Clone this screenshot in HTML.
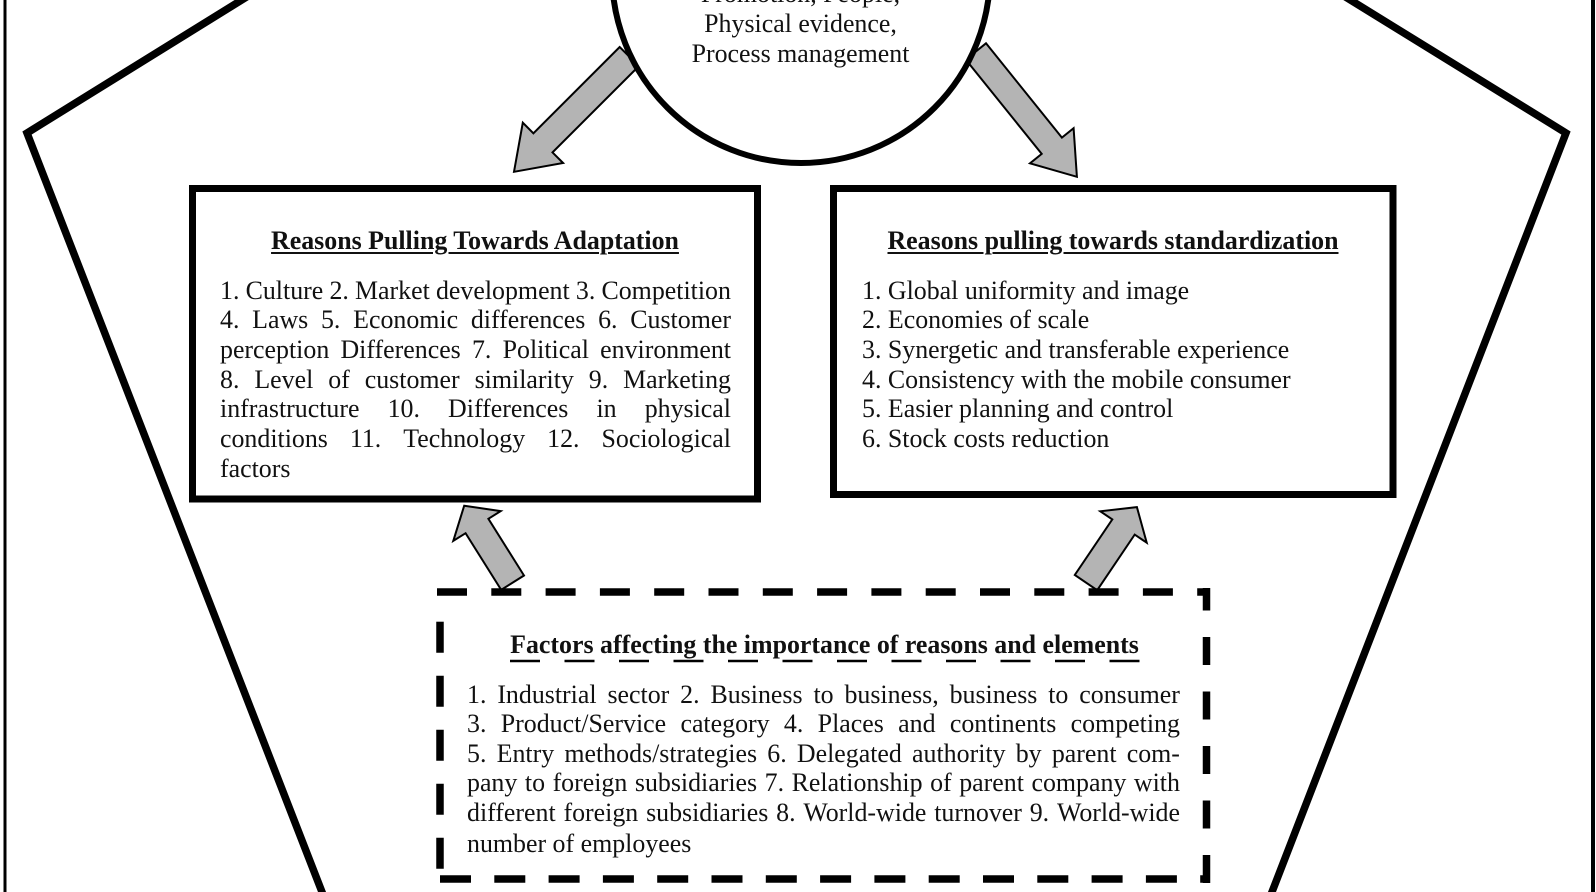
<!DOCTYPE html>
<html>
<head>
<meta charset="utf-8">
<style>
  html,body{margin:0;padding:0;background:#fff;}
  body{width:1596px;height:892px;overflow:hidden;position:relative;font-family:"Liberation Serif","Times New Roman",serif;color:#111;}
  svg{position:absolute;left:0;top:0;}
  .t{position:absolute;font-size:25.9px;line-height:29.7px;white-space:nowrap;}
  .j{display:flex;justify-content:space-between;height:29.7px;line-height:29.7px;white-space:nowrap;}
  .l{height:29.7px;line-height:29.7px;white-space:nowrap;}
  .title{position:absolute;font-size:25.9px;font-weight:bold;line-height:30px;text-align:center;white-space:nowrap;}
  .u{text-decoration:underline;text-decoration-thickness:2px;text-underline-offset:3px;}
</style>
</head>
<body>
<svg width="1596" height="892" viewBox="0 0 1596 892" xmlns="http://www.w3.org/2000/svg">
  <!-- outer frame lines -->
  <line x1="5" y1="0" x2="5" y2="892" stroke="#000" stroke-width="3"/>
  <line x1="1593" y1="0" x2="1593" y2="892" stroke="#000" stroke-width="4"/>
  <!-- pentagon -->
  <polyline points="274,-20 27,133 329,910" fill="none" stroke="#000" stroke-width="7.5" stroke-linejoin="miter" stroke-miterlimit="10"/>
  <polyline points="1318,-20 1566,133 1265,910" fill="none" stroke="#000" stroke-width="7.5" stroke-linejoin="miter" stroke-miterlimit="10"/>
  <!-- boxes -->
  <rect x="192.5" y="188.5" width="565" height="310.5" fill="#fff" stroke="#000" stroke-width="7"/>
  <rect x="833.5" y="188.5" width="559.5" height="306" fill="#fff" stroke="#000" stroke-width="7"/>
  <!-- arrows -->
  <g fill="#b4b4b4" stroke="#000" stroke-width="2" stroke-linejoin="miter">
    <polygon points="619.7,47 533.4,133.3 522.8,122.7 514,171.8 563.1,163 552.5,152.4 638.8,66.1"/>
    <polygon points="986,43.3 1061.9,137.6 1073.6,128.2 1076.9,176.8 1030,163.3 1041.7,153.9 965.8,59.6"/>
    <polygon points="464.2,505.7 500.7,511.1 488.4,518.8 524,575.5 501.2,589.9 465.6,533.2 453.3,540.9"/>
    <polygon points="1136.9,507.1 1146.7,542.7 1134.7,534.6 1097.2,590.2 1074.8,575 1112.3,519.4 1100.3,511.3"/>
  </g>
  <!-- circle -->
  <circle cx="801" cy="-26" r="189" fill="#fff" stroke="#000" stroke-width="6"/>
  <!-- dashed box -->
  <g stroke="#000" stroke-width="7.5" fill="none">
    <line x1="437" y1="592" x2="1210" y2="592" stroke-dasharray="30 24.3"/>
    <line x1="1206.5" y1="883" x2="1206.5" y2="588" stroke-dasharray="28 26.5"/>
    <line x1="440" y1="879" x2="1210" y2="879" stroke-dasharray="31 23.3"/>
    <line x1="440" y1="621.7" x2="440" y2="870" stroke-dasharray="31 23"/>
  </g>
  <!-- dashed underline of factors title -->
  <line x1="510" y1="661" x2="1140" y2="661" stroke="#000" stroke-width="2.5" stroke-dasharray="30 24.5"/>
</svg>

<!-- circle text -->
<div class="t" style="left:600px;top:-21px;width:401px;text-align:center;line-height:30px;">
  <div>Promotion, People,</div>
  <div>Physical evidence,</div>
  <div>Process management</div>
</div>

<!-- Box 1 -->
<div class="title" style="left:189px;top:226px;width:572px;"><span class="u">Reasons Pulling Towards Adaptation</span></div>
<div class="t" style="left:220px;top:275.5px;width:511px;">
  <div class="j"><span>1.</span><span>Culture</span><span>2.</span><span>Market</span><span>development</span><span>3.</span><span>Competition</span></div>
  <div class="j"><span>4.</span><span>Laws</span><span>5.</span><span>Economic</span><span>differences</span><span>6.</span><span>Customer</span></div>
  <div class="j"><span>perception</span><span>Differences</span><span>7.</span><span>Political</span><span>environment</span></div>
  <div class="j"><span>8.</span><span>Level</span><span>of</span><span>customer</span><span>similarity</span><span>9.</span><span>Marketing</span></div>
  <div class="j"><span>infrastructure</span><span>10.</span><span>Differences</span><span>in</span><span>physical</span></div>
  <div class="j"><span>conditions</span><span>11.</span><span>Technology</span><span>12.</span><span>Sociological</span></div>
  <div class="l">factors</div>
</div>

<!-- Box 2 -->
<div class="title" style="left:830px;top:226px;width:566px;"><span class="u">Reasons pulling towards standardization</span></div>
<div class="t" style="left:862px;top:275.5px;width:500px;">
  <div class="l">1. Global uniformity and image</div>
  <div class="l">2. Economies of scale</div>
  <div class="l">3. Synergetic and transferable experience</div>
  <div class="l">4. Consistency with the mobile consumer</div>
  <div class="l">5. Easier planning and control</div>
  <div class="l">6. Stock costs reduction</div>
</div>

<!-- Dashed box -->
<div class="title" style="left:439px;top:630px;width:771px;">Factors affecting the importance of reasons and elements</div>
<div class="t" style="left:467px;top:679.5px;width:713px;line-height:29.5px;">
  <div class="j" style="height:29.5px;line-height:29.5px;"><span>1.</span><span>Industrial</span><span>sector</span><span>2.</span><span>Business</span><span>to</span><span>business,</span><span>business</span><span>to</span><span>consumer</span></div>
  <div class="j" style="height:29.5px;line-height:29.5px;"><span>3.</span><span>Product/Service</span><span>category</span><span>4.</span><span>Places</span><span>and</span><span>continents</span><span>competing</span></div>
  <div class="j" style="height:29.5px;line-height:29.5px;"><span>5.</span><span>Entry</span><span>methods/strategies</span><span>6.</span><span>Delegated</span><span>authority</span><span>by</span><span>parent</span><span>com-</span></div>
  <div class="j" style="height:29.5px;line-height:29.5px;"><span>pany</span><span>to</span><span>foreign</span><span>subsidiaries</span><span>7.</span><span>Relationship</span><span>of</span><span>parent</span><span>company</span><span>with</span></div>
  <div class="j" style="height:29.5px;line-height:29.5px;"><span>different</span><span>foreign</span><span>subsidiaries</span><span>8.</span><span>World-wide</span><span>turnover</span><span>9.</span><span>World-wide</span></div>
  <div class="l" style="height:29.5px;line-height:29.5px;margin-top:2px;">number of employees</div>
</div>
</body>
</html>
